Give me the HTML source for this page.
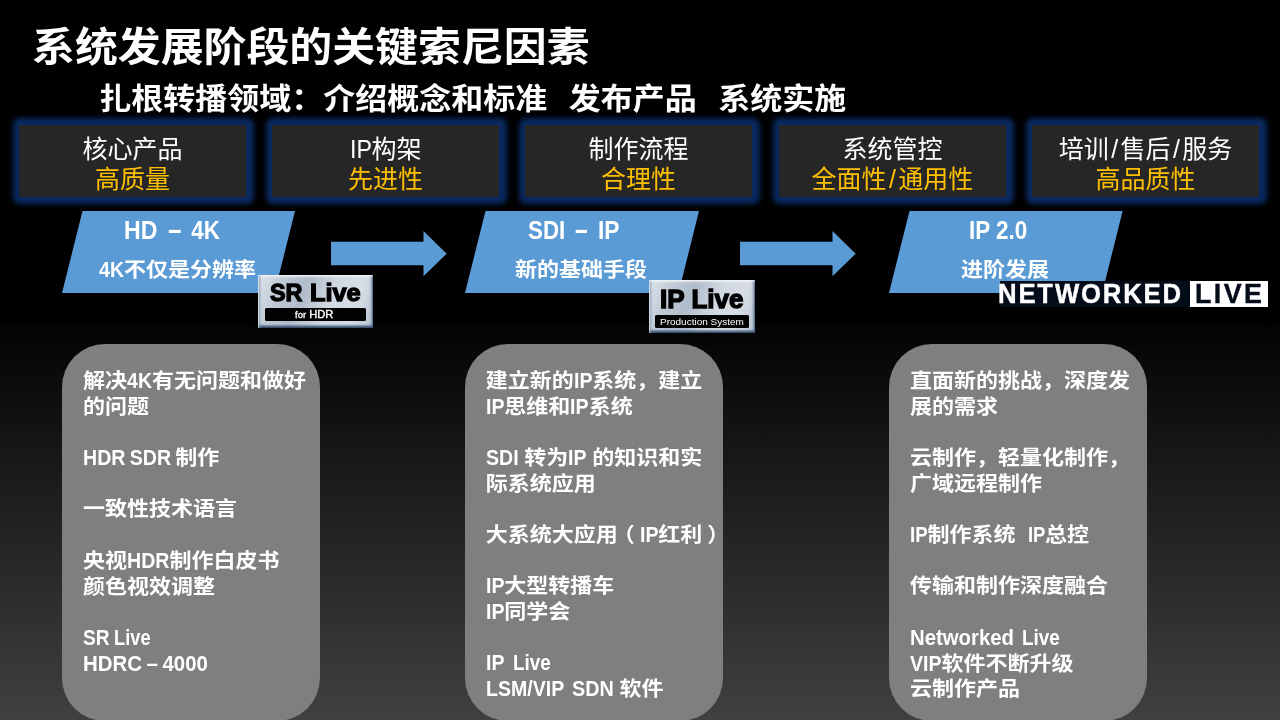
<!DOCTYPE html>
<html lang="zh-CN">
<head>
<meta charset="utf-8">
<title>系统发展阶段的关键索尼因素</title>
<style>
html,body{margin:0;padding:0;background:#000;}
body{width:1280px;height:720px;position:relative;overflow:hidden;font-family:"Liberation Sans","Noto Sans CJK SC",sans-serif;color:#fff;}
#root{position:absolute;left:0;top:0;width:1280px;height:720px;will-change:transform;}
.bg{position:absolute;left:0;top:325px;width:1280px;height:395px;background:linear-gradient(to bottom,#030303 0%,#404040 100%);}
.l{display:inline-block;transform-origin:0 50%;white-space:pre;}
.panel .l{word-spacing:-1.3px;}
h1{position:absolute;margin:0;left:32px;top:22.1px;font-size:42.9px;line-height:54px;font-weight:700;white-space:nowrap;transform:scaleY(.935);transform-origin:0 0;}
h2{position:absolute;margin:0;left:99.2px;top:79px;font-size:32px;line-height:40px;font-weight:700;white-space:pre;word-spacing:1.9px;transform:scaleY(.935);transform-origin:0 50%;}
.glow{position:absolute;top:118px;height:85.5px;width:241px;background:#09285f;border-radius:7px;filter:blur(2.4px);}
.box{position:absolute;top:125px;height:71.5px;width:227px;background:#262626;text-align:center;font-size:25px;line-height:30px;white-space:nowrap;}
.sl{padding:0 2.4px;}
.box .a{position:absolute;left:0;right:0;top:9px;color:#fff;}
.box .b{position:absolute;left:0;right:0;top:39px;color:#ffc000;}
.pg{position:absolute;top:211px;height:81px;width:233px;}
.pg svg{position:absolute;left:0;top:0;}
.pg .t1{position:absolute;top:4px;font-weight:700;font-size:26px;line-height:30px;white-space:pre;}
.pg .t2{position:absolute;top:47.3px;font-weight:700;font-size:22px;line-height:27.98px;white-space:nowrap;transform:scaleY(.915);transform-origin:0 0;}
.t2 .l,.panel .l{transform-origin:0 77.2%;}
.arrow{position:absolute;top:230.6px;}
.badge{position:absolute;border-radius:2px;background:linear-gradient(112deg,#dde3ea 0%,#c0cad6 20%,#b0bccb 38%,#d0d8e1 60%,#d6dde5 80%,#b9c4d2 100%);box-shadow:inset 0 1px 0 #eef1f5,inset 1px 0 0 #cfd7e0,inset 0 -1.5px 0 #3b5373,inset -1px 0 0 #5d7392,inset 0 -3px 1.5px rgba(55,80,115,.55),inset 2.5px 0 1.5px rgba(120,140,165,.5),inset -2.5px 0 1.5px rgba(90,112,140,.45),inset 0 2.5px 1px rgba(255,255,255,.45);color:#000;}
.badge .n{position:absolute;font-weight:700;white-space:nowrap;transform-origin:0 0;line-height:1;-webkit-text-stroke:1.3px #000;}
.badge .bar{position:absolute;background:#020202;border-radius:1.5px;}
.badge .s{position:absolute;color:#fff;white-space:nowrap;transform-origin:0 0;line-height:1;}
.nl{position:absolute;left:1000px;top:281px;width:268px;height:25.8px;background:#040c1a;}
.nl .w{position:absolute;left:189.8px;top:0;width:78.2px;height:25.8px;background:#fff;}
.nl span{position:absolute;top:-4px;-webkit-text-stroke:.4px;font-weight:700;font-size:28.4px;line-height:32px;white-space:nowrap;transform-origin:0 0;}

.panel{position:absolute;top:344px;height:377px;width:258px;background:#7f7f7f;border-radius:43px;}
.panel p{position:absolute;margin:0;left:21px;font-size:22px;line-height:27.98px;font-weight:700;white-space:nowrap;transform:scaleY(.915);transform-origin:0 0;}
.p2 p{left:21px;}
.p3 p{left:20.9px;}
.par{position:relative;}
</style>
</head>
<body>
<div id="root">
<div class="bg"></div>
<h1>系统发展阶段的关键索尼因素</h1>
<h2>扎根转播领域：介绍概念和标准  发布产品  系统实施</h2>

<div class="glow" style="left:12.5px"></div><div class="glow" style="left:265.5px"></div><div class="glow" style="left:518.5px"></div><div class="glow" style="left:772.5px"></div><div class="glow" style="left:1025.5px"></div>
<div class="box" style="left:19px"><div class="a">核心产品</div><div class="b">高质量</div></div>
<div class="box" style="left:272px"><div class="a"><span class="l" style="transform:scaleX(0.93);margin-right:-1.65px">IP</span>构架</div><div class="b">先进性</div></div>
<div class="box" style="left:525px"><div class="a">制作流程</div><div class="b">合理性</div></div>
<div class="box" style="left:779px"><div class="a">系统管控</div><div class="b">全面性<span class="sl">/</span>通用性</div></div>
<div class="box" style="left:1032px"><div class="a">培训<span class="sl">/</span>售后<span class="sl">/</span>服务</div><div class="b">高品质性</div></div>

<div class="pg" style="left:62px"><svg width="234" height="82"><polygon points="20.5,0 233,0 212.5,82 0,82" fill="#5b9bd5"/></svg><div class="t1" style="left:61.5px"><span class="l" style="word-spacing:-1.5px;transform:scaleX(0.89);margin-right:-5.39px">HD  </span><span class="l" style="position:relative;top:-1.3px;transform:scaleX(1.8);margin-right:6.94px">-</span><span class="l" style="word-spacing:-2.4px;transform:scaleX(0.86);margin-right:-6.00px">  4K</span></div><div class="t2" style="left:37px"><span class="l" style="transform:scale(0.89,1.126);margin-right:-3.09px">4K</span>不仅是分辨率</div></div>
<div class="pg" style="left:464.8px"><svg width="235" height="82"><polygon points="20.5,0 234,0 213.5,82 0,82" fill="#5b9bd5"/></svg><div class="t1" style="left:63.2px"><span class="l" style="word-spacing:-2.3px;transform:scaleX(0.86);margin-right:-7.45px">SDI  </span><span class="l" style="position:relative;top:-1.3px;transform:scaleX(1.7);margin-right:6.07px">-</span><span class="l" style="word-spacing:-1.5px;transform:scaleX(0.875);margin-right:-4.50px">  IP</span></div><div class="t2" style="left:50.1px">新的基础手段</div></div>
<div class="pg" style="left:889px"><svg width="235" height="82"><polygon points="20.5,0 233.6,0 213.1,82 0,82" fill="#5b9bd5"/></svg><div class="t1" style="left:80.2px"><span class="l" style="transform:scaleX(0.865);margin-right:-9.11px">IP 2.0</span></div><div class="t2" style="left:72px">进阶发展</div></div>

<svg class="arrow" style="left:331px" width="117" height="47"><polygon points="0,10.7 92.5,10.7 92.5,0 115.7,22.65 92.5,45.3 92.5,34.2 0,34.2" fill="#5b9bd5"/></svg>
<svg class="arrow" style="left:739.6px" width="117" height="47"><polygon points="0,10.7 92.5,10.7 92.5,0 115.7,22.65 92.5,45.3 92.5,34.2 0,34.2" fill="#5b9bd5"/></svg>


<div class="badge" style="left:258px;top:275px;width:115px;height:52.6px"><span class="n" style="left:12.2px;top:5.6px;font-size:24.6px;transform:scaleX(.95)">SR</span> <span class="n" style="left:52.3px;top:5.6px;font-size:24.6px;transform:scaleX(1.03)">Live</span><div class="bar" style="left:7px;top:33.1px;width:101px;height:13.2px"></div><span class="s" style="left:37px;top:34.4px;font-size:10.6px;transform:scaleX(1.05)"><span style="font-size:9px;-webkit-text-stroke:.3px #fff">for</span> <span style="-webkit-text-stroke:.35px #fff">HDR</span></span></div>
<div class="badge" style="left:649px;top:280.3px;width:106px;height:52.6px"><span class="n" style="left:11.4px;top:6.8px;font-size:25.2px;transform:scaleX(1.035)">IP Live</span><div class="bar" style="left:6px;top:34.6px;width:94px;height:13.2px"></div><span class="s" style="left:11.3px;top:36.4px;font-size:9.8px;transform:scaleX(1.02)">Production System</span></div>
<div class="nl"><div class="w"></div><span style="left:-2px;color:#fff;letter-spacing:2px;transform:scaleX(.906)">NETWORKED</span><span style="left:195.3px;color:#040c1a;letter-spacing:2.6px;transform:scaleX(.945)">LIVE</span></div>

<div class="panel" style="left:62px">
<p style="top:25px">解决<span class="l" style="transform:scale(0.89,1.126);margin-right:-3.09px">4K</span>有无问题和做好<br>的问题</p>
<p style="top:102px"><span class="l" style="transform:scale(0.89,1.126);margin-right:-11.41px">HDR SDR </span>制作</p>
<p style="top:153px">一致性技术语言</p>
<p style="top:205px">央视<span class="l" style="transform:scale(0.89,1.126);margin-right:-5.24px">HDR</span>制作白皮书<br>颜色视效调整</p>
<p style="top:282px"><span class="l" style="transform:scale(0.87,1.126);margin-right:-4.60px">SR </span><span class="l" style="transform:scale(0.83,1.126);margin-right:-7.49px">Live</span><br><span class="l" style="transform:scale(0.93,1.126);margin-right:-9.41px">HDRC – 4000</span></p>
</div>
<div class="panel p2" style="left:464.8px">
<p style="top:25px">建立新的<span class="l" style="transform:scale(0.89,1.126);margin-right:-2.29px">IP</span>系统，建立<br><span class="l" style="transform:scale(0.89,1.126);margin-right:-2.29px">IP</span>思维和<span class="l" style="transform:scale(0.89,1.126);margin-right:-2.29px">IP</span>系统</p>
<p style="top:102px"><span class="l" style="word-spacing:0.5px;transform:scale(0.89,1.126);margin-right:-4.76px">SDI </span>转为<span class="l" style="word-spacing:0.3px;transform:scale(0.89,1.126);margin-right:-2.95px">IP </span>的知识和实<br>际系统应用</p>
<p style="top:179px">大系统大应用<span class="par" style="left:-5px">（</span><span class="l" style="transform:scale(0.89,1.126);margin-right:-2.29px">IP</span>红利<span class="par" style="left:5px">）</span></p>
<p style="top:230px"><span class="l" style="transform:scale(0.89,1.126);margin-right:-2.29px">IP</span>大型转播车<br><span class="l" style="transform:scale(0.89,1.126);margin-right:-2.29px">IP</span>同学会</p>
<p style="top:307px"><span class="l" style="word-spacing:3.7px;transform:scale(0.89,1.126);margin-right:-3.32px">IP </span><span class="l" style="transform:scale(0.86,1.126);margin-right:-6.16px">Live</span><br><span class="l" style="word-spacing:3.1px;transform:scale(0.89,1.126);margin-right:-10.65px">LSM/VIP </span><span class="l" style="word-spacing:0.2px;transform:scale(0.9,1.126);margin-right:-5.28px">SDN </span>软件</p>
</div>
<div class="panel p3" style="left:889px">
<p style="top:25px">直面新的挑战，深度发<br>展的需求</p>
<p style="top:102px">云制作，轻量化制作，<br>广域远程制作</p>
<p style="top:179px"><span class="l" style="transform:scale(0.85,1.126);margin-right:-3.12px">IP</span>制作系统<span class="l" style="word-spacing:1.0px;transform:scale(0.84,1.126);margin-right:-5.60px">  IP</span>总控</p>
<p style="top:230px">传输和制作深度融合</p>
<p style="top:282px"><span class="l" style="word-spacing:2.5px;transform:scale(0.925,1.126);margin-right:-9.08px">Networked </span><span class="l" style="transform:scale(0.86,1.126);margin-right:-6.16px">Live</span><br><span class="l" style="transform:scale(0.89,1.126);margin-right:-3.90px">VIP</span>软件不断升级<br>云制作产品</p>
</div>
</div>
</body>
</html>
